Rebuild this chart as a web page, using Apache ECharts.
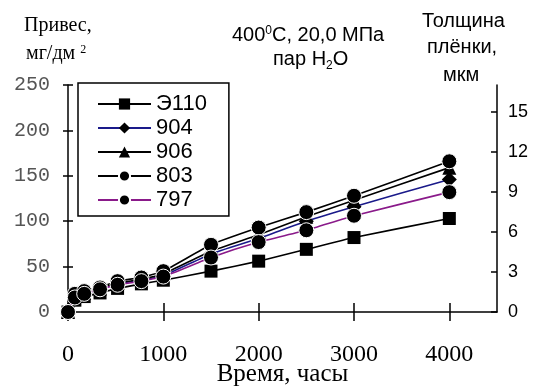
<!DOCTYPE html>
<html>
<head>
<meta charset="utf-8">
<script src="https://cdn.jsdelivr.net/npm/echarts@6/dist/echarts.min.js"></script>
<style>
  html, body { margin: 0; padding: 0; background: #fff; }
  #chart { width: 538px; height: 390px; }
</style>
</head>
<body>
<div id="chart"></div>
<script>
// test duration, hours
const times = [0, 72, 170, 336, 520, 770, 1000, 1500, 2000, 2500, 3000, 4000];
// weight gain, mg/dm2
const e110 = [0, 13, 17, 21, 26, 31, 35, 45, 56, 69, 82, 103];
const a904 = [0, 17, 20, 25, 31, 35, 40, 64, 81, 100, 116, 146];
const a906 = [0, 18, 21, 26, 32, 36, 42, 67, 85, 105, 123, 159];
const a803 = [0, 20, 23, 27, 34, 38, 45, 74, 93, 110, 128, 166];
const a797 = [0, 16, 20, 25, 30, 34, 39, 60, 77, 90, 106, 132];

const xTicks = [0, 1000, 2000, 3000, 4000];
const rightTicks = [0, 3, 6, 9, 12, 15];

const pairs = (vals) => times.map((t, i) => [t, vals[i]]);

const chart = echarts.init(document.getElementById("chart"));

const mkSeries = (name, vals, symbol, size, lineColor, z) => ({
  name: name,
  type: "line",
  data: pairs(vals),
  symbol: symbol,
  symbolSize: size,
  smooth: 0.15,
  z: z,
  itemStyle: { color: "#000", borderColor: symbol === "circle" ? "#fff" : "#000", borderWidth: symbol === "circle" ? 1 : 0 },
  lineStyle: { color: lineColor, width: 1.6 },
  emphasis: { disabled: true },
});

const serifNum = "Liberation Serif, Times New Roman, serif";
const sans = "Liberation Sans, Arial, sans-serif";
const tickStyle = { color: "#000", width: 1.5 };

const option = {
  animation: false,
  backgroundColor: "#fff",
  grid: { left: 68, right: 41, top: 85, bottom: 78, outerBoundsMode: "none", containLabel: false },
  legend: {
    orient: "vertical",
    left: 78,
    top: 83,
    padding: [10, 22, 5, 19],
    itemGap: 2,
    itemWidth: 53,
    itemHeight: 14,
    borderColor: "#000",
    borderWidth: 1.5,
    backgroundColor: "#fff",
    textStyle: { fontFamily: sans, fontSize: 22, color: "#000", lineHeight: 21 },
    data: ["Э110", "904", "906", "803", "797"],
  },
  xAxis: [
    {
      type: "value",
      min: 0,
      max: 4500,
      position: "bottom",
      name: "Время, часы",
      nameLocation: "middle",
      nameMoveOverlap: false,
      nameGap: 50,
      nameTextStyle: { fontFamily: serifNum, fontSize: 25, color: "#000" },
      axisLine: { show: true, onZero: false, lineStyle: { color: "#000", width: 1.5 } },
      axisTick: { show: true, customValues: xTicks, inside: false, length: 9, lineStyle: tickStyle },
      axisLabel: {
        customValues: xTicks,
        margin: 31,
        fontFamily: serifNum,
        fontSize: 24,
        color: "#000",
        formatter: (v) => String(v),
      },
      splitLine: { show: false },
    },
    {
      type: "value",
      min: 0,
      max: 4500,
      position: "bottom",
      axisLine: { show: false, onZero: false },
      axisTick: { show: true, customValues: xTicks, inside: true, length: 9, lineStyle: tickStyle },
      axisLabel: { show: false },
      splitLine: { show: false },
    },
  ],
  yAxis: [
    {
      type: "value",
      min: 0,
      max: 250,
      interval: 50,
      position: "left",
      axisLine: { show: true, onZero: false, lineStyle: { color: "#000", width: 1.5 } },
      axisTick: { show: true, inside: false, length: 5, lineStyle: tickStyle },
      axisLabel: { margin: 18, fontFamily: "Liberation Mono, Courier New, monospace", fontSize: 20, color: "#555" },
      splitLine: { show: false },
    },
    {
      type: "value",
      min: 0,
      max: 17,
      position: "right",
      axisLine: { show: true, onZero: false, lineStyle: { color: "#000", width: 1.5 } },
      axisTick: { show: true, customValues: rightTicks, inside: true, length: 6, lineStyle: tickStyle },
      axisLabel: { customValues: rightTicks, margin: 11, fontFamily: sans, fontSize: 18, color: "#000" },
      splitLine: { show: false },
    },
    {
      type: "value",
      min: 0,
      max: 250,
      interval: 50,
      position: "left",
      axisLine: { show: false, onZero: false },
      axisTick: { show: true, inside: true, length: 5, lineStyle: tickStyle },
      axisLabel: { show: false },
      splitLine: { show: false },
    },
  ],
  graphic: [
    {
      type: "text",
      left: 24, top: 16,
      style: { text: "Привес,", font: "20px " + serifNum, fill: "#000" },
    },
    {
      type: "text",
      left: 26, top: 44,
      style: {
        text: "мг/дм {sup|2}",
        font: "20px " + serifNum,
        fill: "#000",
        rich: {
          sup: { fontSize: 12, fontFamily: serifNum, verticalAlign: "top", lineHeight: 12, fill: "#000" },
        },
      },
    },
    {
      type: "text",
      left: 232, top: 25,
      style: {
        text: "400{sup|0}C, 20,0 МПа",
        font: "20px " + sans,
        fill: "#000",
        rich: {
          sup: { fontSize: 12, fontFamily: sans, verticalAlign: "top", lineHeight: 12, fill: "#000" },
        },
      },
    },
    {
      type: "text",
      left: 273, top: 49,
      style: {
        text: "{n|пар H}{sub|2}{n|O}",
        fill: "#000",
        rich: {
          n: { fontSize: 20, fontFamily: sans, lineHeight: 26, fill: "#000" },
          sub: { fontSize: 12, fontFamily: sans, verticalAlign: "bottom", lineHeight: 12, fill: "#000" },
        },
      },
    },
    {
      type: "text",
      left: 422, top: 11,
      style: { text: "Толщина", font: "20px " + sans, fill: "#000" },
    },
    {
      type: "text",
      left: 427, top: 37,
      style: { text: "плёнки,", font: "20px " + sans, fill: "#000" },
    },
    {
      type: "text",
      left: 443, top: 65,
      style: { text: "мкм", font: "20px " + sans, fill: "#000" },
    },
  ],
  series: [
    mkSeries("Э110", e110, "rect", 13, "#000", 2),
    mkSeries("904", a904, "diamond", 15, "#1a1a8a", 3),
    mkSeries("906", a906, "triangle", 14, "#000", 4),
    mkSeries("803", a803, "circle", 15, "#000", 5),
    mkSeries("797", a797, "circle", 15, "#8a1a8a", 6),
  ],
};

chart.setOption(option);
</script>
</body>
</html>
